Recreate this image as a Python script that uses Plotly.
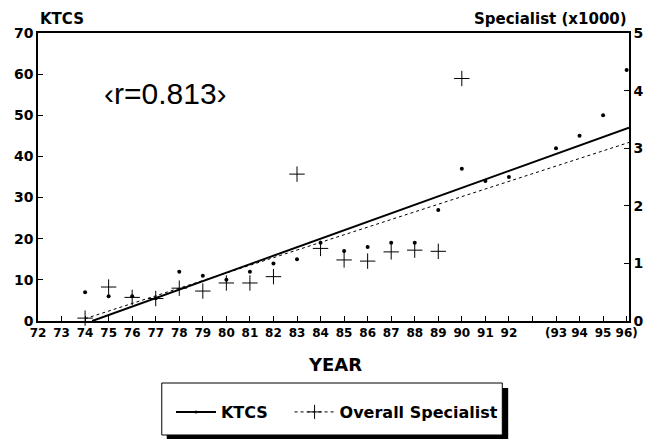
import plotly.graph_objects as go

# ---------------- data ----------------
ktcs_years = [74, 75, 76, 77, 78, 79, 80, 81, 82, 83, 84, 85, 86, 87, 88, 89, 90, 91, 92, 93, 94, 95, 96]
ktcs_values = [7, 6, 6, 5.5, 12, 11, 10, 12, 14, 15, 19, 17, 18, 19, 19, 27, 37, 34, 35, 42, 45, 50, 61]

spec_years = [74, 75, 76, 77, 78, 79, 80, 81, 82, 83, 84, 85, 86, 87, 88, 89, 90]
spec_values = [0.05, 0.59, 0.41, 0.39, 0.57, 0.52, 0.66, 0.66, 0.77, 2.55, 1.26, 1.06, 1.04, 1.20, 1.23, 1.21, 4.21]

# regression (trend) lines, in axis-position units
ktcs_fit_x = [74.3, 97.1]
ktcs_fit_y = [0.0, 47.0]
spec_fit_x = [74.0, 97.1]
spec_fit_y = [0.04, 3.1]

tick_positions = list(range(72, 98))
tick_labels = [str(v) for v in range(72, 93)] + ["", "(93", "94", "95", "96)"]

r_label = "‹r=0.813›"


def pos(year):
    # the 93-96 block is drawn after one blank slot on the axis
    return year if year <= 92 else year + 1


ktcs_x = [pos(y) for y in ktcs_years]
spec_x = [pos(y) for y in spec_years]

BOLD = "DejaVu Sans"
NBSP = "\u00a0"
fig = go.Figure()

# data points
fig.add_trace(go.Scatter(x=ktcs_x, y=ktcs_values, mode="markers",
                         marker=dict(symbol="circle", size=4, color="black"),
                         showlegend=False, cliponaxis=False))
fig.add_trace(go.Scatter(x=spec_x, y=spec_values, mode="markers", yaxis="y2",
                         marker=dict(symbol="cross-thin", size=11, color="black",
                                     line=dict(color="black", width=1)),
                         showlegend=False, cliponaxis=False))
# trend lines
fig.add_trace(go.Scatter(x=ktcs_fit_x, y=ktcs_fit_y, mode="lines",
                         line=dict(color="black", width=2), showlegend=False))
fig.add_trace(go.Scatter(x=spec_fit_x, y=spec_fit_y, mode="lines", yaxis="y2",
                         line=dict(color="black", width=1, dash="dot"), showlegend=False))

# legend entries
fig.add_trace(go.Scatter(x=[None], y=[None], mode="lines+markers", name="KTCS" + NBSP * 3,
                         line=dict(color="black", width=2),
                         marker=dict(symbol="circle", size=3, color="black")))
fig.add_trace(go.Scatter(x=[None], y=[None], mode="lines+markers", name="Overall Specialist",
                         line=dict(color="black", width=1, dash="dot"),
                         marker=dict(symbol="cross-thin", size=10, color="black",
                                     line=dict(color="black", width=1))))

tickfont = dict(family=BOLD, size=14, color="black", weight="bold")

fig.update_layout(
    width=656, height=444,
    margin=dict(l=38, r=21, t=33, b=123),
    paper_bgcolor="white", plot_bgcolor="white",
    showlegend=True,
    xaxis=dict(range=[72, 97.1], tickmode="array", tickvals=tick_positions, ticktext=tick_labels,
               ticks="inside", ticklen=5, tickcolor="black", tickwidth=1,
               showline=True, linecolor="black", linewidth=1.5, mirror=True,
               showgrid=False, zeroline=False, tickfont=dict(family=BOLD, size=12, color="black", weight="bold")),
    yaxis=dict(range=[0, 70], dtick=10, ticks="inside", ticklen=5, tickcolor="black",
               showline=True, linecolor="black", linewidth=1.5,
               showgrid=False, zeroline=False, tickfont=tickfont),
    yaxis2=dict(range=[0, 5], dtick=1, overlaying="y", side="right",
                ticks="inside", ticklen=5, tickcolor="black",
                showline=True, linecolor="black", linewidth=1.5,
                showgrid=False, zeroline=False, tickfont=tickfont),
    legend=dict(orientation="h", x=0.225, y=-0.316, xanchor="left", yanchor="middle",
                bgcolor="rgba(0,0,0,0)", borderwidth=0,
                font=dict(family=BOLD, size=16, color="black", weight="bold"),
                itemwidth=40),
    shapes=[
        dict(type="rect", xref="paper", yref="paper", x0=0.2178, x1=0.7956, y0=-0.4097, y1=-0.2326,
             fillcolor="black", line=dict(width=0), layer="below"),
        dict(type="rect", xref="paper", yref="paper", x0=0.2094, x1=0.7856, y0=-0.3958, y1=-0.2153,
             fillcolor="white", line=dict(color="black", width=1), layer="below"),
    ],
    annotations=[
        dict(text="KTCS", xref="paper", yref="paper", x=0, y=1.0486, xanchor="left", yanchor="middle",
             showarrow=False, font=dict(family=BOLD, size=15, color="black", weight="bold")),
        dict(text="Specialist (x1000)", xref="paper", yref="paper", x=1, y=1.0486,
             xanchor="right", yanchor="middle", showarrow=False,
             font=dict(family=BOLD, size=15, color="black", weight="bold")),
        dict(text=r_label, x=77.43, y=55.4, xref="x", yref="y", xanchor="center", yanchor="middle",
             showarrow=False, font=dict(family="Liberation Sans", size=30, color="black")),
        dict(text="YEAR", xref="paper", yref="paper", x=0.503, y=-0.151, xanchor="center",
             yanchor="middle", showarrow=False,
             font=dict(family=BOLD, size=18, color="black", weight="bold")),
        dict(text="", x=77.5, y=-1.2, xref="x", yref="y", showarrow=True, ax=-5, ay=7,
             arrowhead=2, arrowsize=1, arrowwidth=2, arrowcolor="black"),
    ],
)

fig.write_html("out.html")
